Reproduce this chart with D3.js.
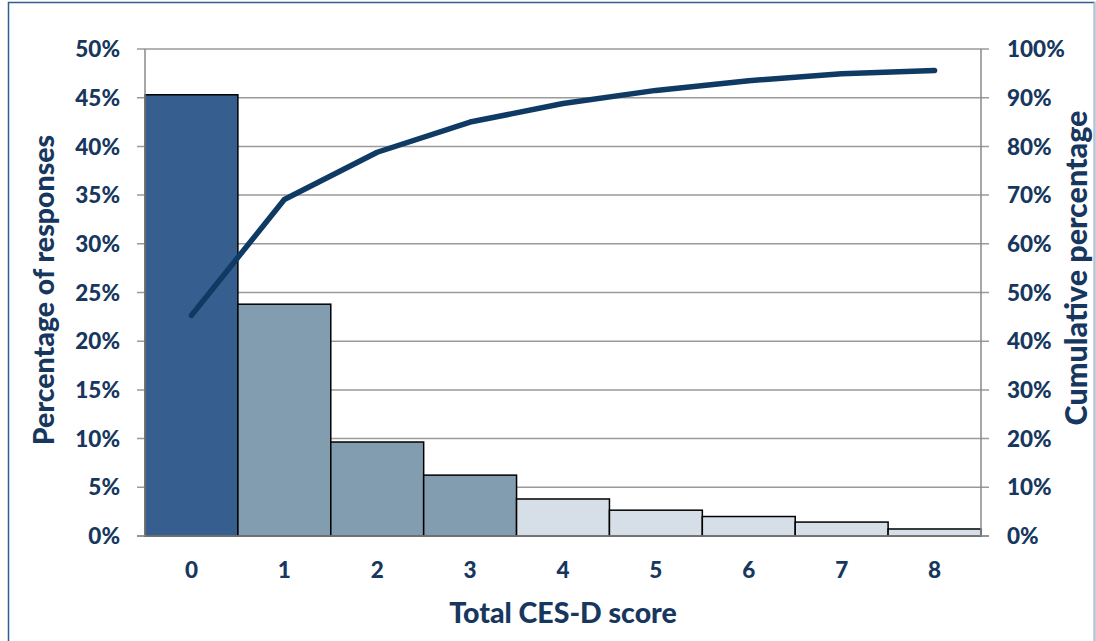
<!DOCTYPE html>
<html><head><meta charset="utf-8">
<script src="https://cdn.jsdelivr.net/npm/d3@7"></script>
<style>
html,body{margin:0;padding:0;background:#fff;}
svg text{font-family:Lato,"Open Sans",sans-serif;font-weight:900;fill:#17375E;}
</style></head>
<body>
<svg id="c" width="1096" height="641"></svg>
<script>
const categories = ["0","1","2","3","4","5","6","7","8"];
const percentValues = [45.3, 23.8, 9.65, 6.25, 3.8, 2.65, 2.0, 1.43, 0.72];
const cumulativeValues = [45.3, 69.1, 78.8, 85.0, 88.8, 91.5, 93.5, 94.9, 95.6];
const leftTicks = [0,5,10,15,20,25,30,35,40,45,50];
const rightTicks = [0,10,20,30,40,50,60,70,80,90,100];
const barColors = ["#365E8E","#819DAF","#819DAF","#819DAF","#D6DFE7","#D6DFE7","#D6DFE7","#D6DFE7","#D6DFE7"];

const svg = d3.select("#c");
const L = 145, R = 981, T = 49, B = 536;

// frame
svg.append("rect").attr("x",8.5).attr("y",2.5).attr("width",1086).attr("height",650)
  .attr("fill","none").attr("stroke","#2F5F8F").attr("stroke-width",1.5);
svg.append("line").attr("x1",1094.5).attr("x2",1094.5).attr("y1",2).attr("y2",641)
  .attr("stroke","#B8C4CE").attr("stroke-width",1.5);

const x = d3.scaleBand().domain(categories).range([L,R]).padding(0);
const yL = d3.scaleLinear().domain([0,50]).range([B,T]);
const yR = d3.scaleLinear().domain([0,100]).range([B,T]);

// gridlines
svg.append("g").selectAll("line").data(leftTicks).join("line")
  .attr("x1",L-8).attr("x2",R+8)
  .attr("y1",d=>yL(d)).attr("y2",d=>yL(d))
  .attr("stroke","#9A9A9A").attr("stroke-width",1.5);

// bars
svg.append("g").selectAll("rect").data(percentValues).join("rect")
  .attr("x",(d,i)=>x(categories[i]))
  .attr("y",d=>yL(d))
  .attr("width",x.bandwidth())
  .attr("height",d=>B-yL(d))
  .attr("fill",(d,i)=>barColors[i])
  .attr("stroke","#000").attr("stroke-width",1.5);

// axis lines
svg.append("line").attr("x1",L).attr("x2",L).attr("y1",T).attr("y2",B).attr("stroke","#8A8A8A").attr("stroke-width",1.5);
svg.append("line").attr("x1",R).attr("x2",R).attr("y1",T).attr("y2",B).attr("stroke","#8A8A8A").attr("stroke-width",1.5);
svg.append("line").attr("x1",L-8).attr("x2",R+8).attr("y1",B).attr("y2",B).attr("stroke","#8A8A8A").attr("stroke-width",1.5);

// cumulative line
const line = d3.line().x((d,i)=>x(categories[i])+x.bandwidth()/2).y(d=>yR(d));
svg.append("path").datum(cumulativeValues).attr("d",line)
  .attr("fill","none").attr("stroke","#0E3A64").attr("stroke-width",5.5)
  .attr("stroke-linecap","round").attr("stroke-linejoin","round");

// left axis labels
svg.append("g").selectAll("text").data(leftTicks).join("text")
  .attr("x",120).attr("y",d=>yL(d)).attr("dy","0.36em")
  .attr("text-anchor","end").attr("font-size",22.5).text(d=>d+"%");
// right axis labels
svg.append("g").selectAll("text").data(rightTicks).join("text")
  .attr("x",1007).attr("y",d=>yR(d)).attr("dy","0.36em")
  .attr("text-anchor","start").attr("font-size",22.5).text(d=>d+"%");
// x labels
svg.append("g").selectAll("text").data(categories).join("text")
  .attr("x",d=>x(d)+x.bandwidth()/2).attr("y",578)
  .attr("text-anchor","middle").attr("font-size",22.5).text(d=>d);

// titles
svg.append("text").attr("x",563).attr("y",623).attr("text-anchor","middle")
  .attr("font-size",28.5).text("Total CES-D score");
svg.append("text").attr("transform","translate(54,290) rotate(-90)").attr("text-anchor","middle")
  .attr("font-size",28.5).text("Percentage of responses");
svg.append("text").attr("transform","translate(1087,268) rotate(-90)").attr("text-anchor","middle")
  .attr("font-size",30.5).text("Cumulative percentage");
</script>
</body></html>
